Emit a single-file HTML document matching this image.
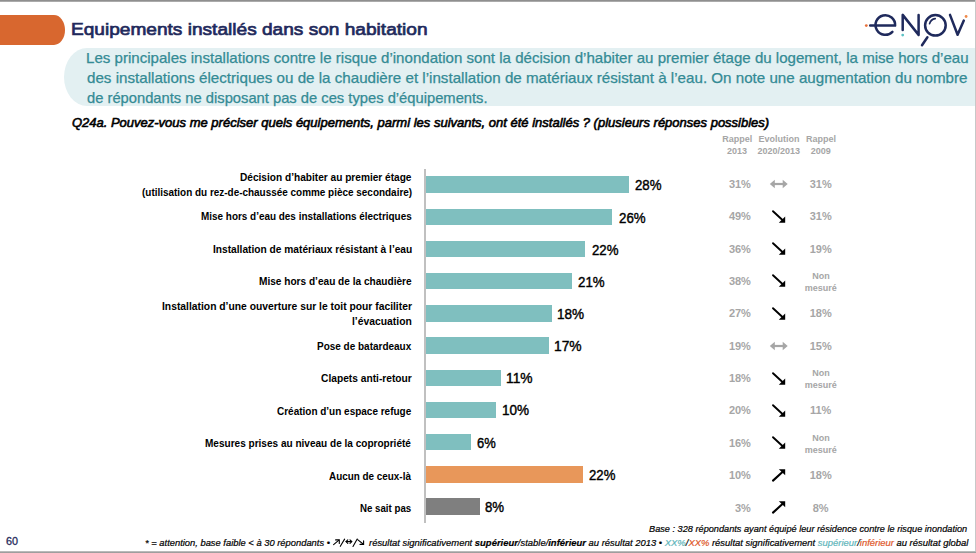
<!DOCTYPE html>
<html><head><meta charset="utf-8"><style>
html,body{margin:0;padding:0;}
body{width:976px;height:553px;position:relative;overflow:hidden;background:#fff;font-family:"Liberation Sans",sans-serif;}
.t{position:absolute;white-space:nowrap;line-height:normal;transform-origin:0 0;display:inline-block;}
.topb{position:absolute;left:0;top:0;width:976px;height:2px;background:linear-gradient(#8f8f8f 60%,#d8d8d8);}
.botb{position:absolute;left:0;top:551px;width:976px;height:2px;background:linear-gradient(#c8c8c8,#8f8f8f);}
.rb{position:absolute;left:975px;top:0;width:1px;height:553px;background:#c8c8c8;}
.tab{position:absolute;left:0;top:15px;width:65px;height:30px;background:#d8672f;border-radius:0 11px 11px 0 / 0 15px 15px 0;}
.box{position:absolute;left:64px;top:47.5px;width:911px;height:58px;background:#e3f0f2;border-radius:23px 0 0 23px / 29px 0 0 29px;}
.axis{position:absolute;left:424px;top:169px;width:2px;height:354px;background:#c0c0c0;}
.bar{position:absolute;left:426px;height:16.6px;}
.arr,.logo{position:absolute;}
</style></head><body>
<div class="topb"></div>
<div class="rb"></div>
<div class="botb"></div>
<div class="tab"></div>
<div class="box"></div>
<svg class="logo" style="left:860px;top:8px" width="112" height="42" viewBox="860 8 112 42">
<g fill="none" stroke="#1f2a5c" stroke-width="2.5" stroke-linecap="round" stroke-linejoin="round">
<path d="M870.2 25.6H895.1A9.8 9.8 0 1 0 892.4 31.8"/>
<path d="M902.7 14.9V30.1M902.7 14.9L918.6 34.9V14.9"/>
<circle cx="935.4" cy="25.3" r="10.3"/>
<path d="M927.4 37.2L922.0 45.2"/>
<path d="M929.6 23.6A6.8 6.8 0 0 1 935.2 18.6" stroke-width="1.7"/>
<path d="M950.0 14.9L957.6 34.8L963.8 20.6"/>
</g>
<circle cx="866.3" cy="25.6" r="1.4" fill="#e8703a"/>
<circle cx="902.7" cy="35.1" r="1.4" fill="#5cc2c4"/>
<circle cx="966.1" cy="16.5" r="1.4" fill="#f08a4a"/>
</svg>
<div class="axis"></div>
<div class="bar" style="top:176.30px;width:202.50px;background:#7fbfbf"></div>
<div class="bar" style="top:208.50px;width:186.10px;background:#7fbfbf"></div>
<div class="bar" style="top:240.70px;width:159.30px;background:#7fbfbf"></div>
<div class="bar" style="top:272.90px;width:145.80px;background:#7fbfbf"></div>
<div class="bar" style="top:305.10px;width:126.10px;background:#7fbfbf"></div>
<div class="bar" style="top:337.30px;width:122.90px;background:#7fbfbf"></div>
<div class="bar" style="top:369.50px;width:75.00px;background:#7fbfbf"></div>
<div class="bar" style="top:401.70px;width:70.10px;background:#7fbfbf"></div>
<div class="bar" style="top:433.90px;width:44.90px;background:#7fbfbf"></div>
<div class="bar" style="top:466.10px;width:156.80px;background:#e8975a"></div>
<div class="bar" style="top:498.30px;width:54.00px;background:#7f7f7f"></div>
<svg class="arr" style="left:768px;top:178.10px" width="22" height="12" viewBox="0 0 22 12"><path d="M5 6H16" stroke="#a6a6a6" stroke-width="2.2"/><path d="M1.8 6L6.8 1.7V10.3Z M19.7 6L14.7 1.7V10.3Z" fill="#a6a6a6"/></svg>
<svg class="arr" style="left:770px;top:207.68px" width="18" height="16" viewBox="0 0 18 16"><path d="M3 3.2L13 12.5" stroke="#000" stroke-width="1.9" stroke-linecap="round"/><path d="M15.2 14.8L15.2 8.6L8.8 14.8Z" fill="#000"/></svg>
<svg class="arr" style="left:770px;top:240.06px" width="18" height="16" viewBox="0 0 18 16"><path d="M3 3.2L13 12.5" stroke="#000" stroke-width="1.9" stroke-linecap="round"/><path d="M15.2 14.8L15.2 8.6L8.8 14.8Z" fill="#000"/></svg>
<svg class="arr" style="left:770px;top:272.44px" width="18" height="16" viewBox="0 0 18 16"><path d="M3 3.2L13 12.5" stroke="#000" stroke-width="1.9" stroke-linecap="round"/><path d="M15.2 14.8L15.2 8.6L8.8 14.8Z" fill="#000"/></svg>
<svg class="arr" style="left:770px;top:304.82px" width="18" height="16" viewBox="0 0 18 16"><path d="M3 3.2L13 12.5" stroke="#000" stroke-width="1.9" stroke-linecap="round"/><path d="M15.2 14.8L15.2 8.6L8.8 14.8Z" fill="#000"/></svg>
<svg class="arr" style="left:768px;top:340.00px" width="22" height="12" viewBox="0 0 22 12"><path d="M5 6H16" stroke="#a6a6a6" stroke-width="2.2"/><path d="M1.8 6L6.8 1.7V10.3Z M19.7 6L14.7 1.7V10.3Z" fill="#a6a6a6"/></svg>
<svg class="arr" style="left:770px;top:369.58px" width="18" height="16" viewBox="0 0 18 16"><path d="M3 3.2L13 12.5" stroke="#000" stroke-width="1.9" stroke-linecap="round"/><path d="M15.2 14.8L15.2 8.6L8.8 14.8Z" fill="#000"/></svg>
<svg class="arr" style="left:770px;top:401.96px" width="18" height="16" viewBox="0 0 18 16"><path d="M3 3.2L13 12.5" stroke="#000" stroke-width="1.9" stroke-linecap="round"/><path d="M15.2 14.8L15.2 8.6L8.8 14.8Z" fill="#000"/></svg>
<svg class="arr" style="left:770px;top:434.34px" width="18" height="16" viewBox="0 0 18 16"><path d="M3 3.2L13 12.5" stroke="#000" stroke-width="1.9" stroke-linecap="round"/><path d="M15.2 14.8L15.2 8.6L8.8 14.8Z" fill="#000"/></svg>
<svg class="arr" style="left:770px;top:467.52px" width="18" height="16" viewBox="0 0 18 16"><path d="M3 12.6L13 3.5" stroke="#000" stroke-width="2.1" stroke-linecap="round"/><path d="M15.2 1.2L15.2 7.2L8.8 1.2Z" fill="#000"/></svg>
<svg class="arr" style="left:770px;top:499.90px" width="18" height="16" viewBox="0 0 18 16"><path d="M3 12.6L13 3.5" stroke="#000" stroke-width="2.1" stroke-linecap="round"/><path d="M15.2 1.2L15.2 7.2L8.8 1.2Z" fill="#000"/></svg>
<svg class="arr" style="left:330px;top:536px" width="40" height="13" viewBox="330 536 40 13">
<g stroke="#000" stroke-width="1.1" fill="none" stroke-linecap="round">
<path d="M333.6 544.6L338.6 540.4"/><path d="M335.6 539.9H339.3V543.4"/>
<path d="M340.3 546.3L344.6 539.1"/>
<path d="M346.2 541.6H351.6"/><path d="M347.8 539.9L346 541.6L347.8 543.4M350 539.9L351.8 541.6L350 543.4"/>
<path d="M353 546.4L357.2 539.1"/>
<path d="M357.6 539.6L362.8 543.8"/><path d="M363.6 540.8V544.4H360"/>
</g></svg>
<span class="t" style="left:71.10px;top:19.25px;font-size:17.4px;color:#1f2a5c;transform:scaleX(1.0976);-webkit-text-stroke-width:0.7px;">Equipements installés dans son habitation</span>
<span class="t" style="left:85.94px;top:49.85px;font-size:14.2px;color:#348b95;transform:scaleX(1.0628);-webkit-text-stroke-width:0.25px;">Les principales installations contre le risque d’inondation sont la décision d’habiter au premier étage du logement, la mise hors d’eau</span>
<span class="t" style="left:87.00px;top:69.85px;font-size:14.2px;color:#348b95;transform:scaleX(1.0683);-webkit-text-stroke-width:0.25px;">des installations électriques ou de la chaudière et l’installation de matériaux résistant à l’eau. On note une augmentation du nombre</span>
<span class="t" style="left:87.00px;top:89.65px;font-size:14.2px;color:#348b95;transform:scaleX(1.0386);-webkit-text-stroke-width:0.25px;">de répondants ne disposant pas de ces types d’équipements.</span>
<span class="t" style="left:71.90px;top:114.64px;font-size:13.0px;font-style:italic;color:#000;-webkit-text-stroke-width:0.6px;">Q24a. Pouvez-vous me préciser quels équipements, parmi les suivants, ont été installés ? (plusieurs réponses possibles)</span>
<span class="t" style="left:239.70px;top:170.61px;font-size:10.6px;font-weight:bold;color:#000;transform:scaleX(0.9551);">Décision d’habiter au premier étage</span>
<span class="t" style="left:141.70px;top:185.51px;font-size:10.6px;font-weight:bold;color:#000;transform:scaleX(0.9382);">(utilisation du rez-de-chaussée comme pièce secondaire)</span>
<span class="t" style="left:200.50px;top:210.41px;font-size:10.6px;font-weight:bold;color:#000;transform:scaleX(0.9369);">Mise hors d’eau des installations électriques</span>
<span class="t" style="left:212.50px;top:242.81px;font-size:10.6px;font-weight:bold;color:#000;transform:scaleX(0.9615);">Installation de matériaux résistant à l’eau</span>
<span class="t" style="left:258.60px;top:275.21px;font-size:10.6px;font-weight:bold;color:#000;transform:scaleX(0.9529);">Mise hors d’eau de la chaudière</span>
<span class="t" style="left:161.50px;top:300.21px;font-size:10.6px;font-weight:bold;color:#000;transform:scaleX(0.9738);">Installation d’une ouverture sur le toit pour faciliter</span>
<span class="t" style="left:352.00px;top:315.11px;font-size:10.6px;font-weight:bold;color:#000;transform:scaleX(0.9760);">l’évacuation</span>
<span class="t" style="left:317.00px;top:340.01px;font-size:10.6px;font-weight:bold;color:#000;transform:scaleX(0.9411);">Pose de batardeaux</span>
<span class="t" style="left:320.60px;top:372.41px;font-size:10.6px;font-weight:bold;color:#000;transform:scaleX(0.9643);">Clapets anti-retour</span>
<span class="t" style="left:277.00px;top:404.81px;font-size:10.6px;font-weight:bold;color:#000;transform:scaleX(0.9420);">Création d’un espace refuge</span>
<span class="t" style="left:205.30px;top:437.21px;font-size:10.6px;font-weight:bold;color:#000;transform:scaleX(0.9477);">Mesures prises au niveau de la copropriété</span>
<span class="t" style="left:329.30px;top:469.61px;font-size:10.6px;font-weight:bold;color:#000;transform:scaleX(0.9337);">Aucun de ceux-là</span>
<span class="t" style="left:360.00px;top:502.01px;font-size:10.6px;font-weight:bold;color:#000;transform:scaleX(0.9153);">Ne sait pas</span>
<span class="t" style="left:634.60px;top:177.43px;font-size:14.0px;color:#000;transform:scaleX(0.9466);-webkit-text-stroke-width:0.4px;">28%</span>
<span class="t" style="left:618.70px;top:209.58px;font-size:14.0px;color:#000;transform:scaleX(0.9502);-webkit-text-stroke-width:0.4px;">26%</span>
<span class="t" style="left:591.90px;top:241.73px;font-size:14.0px;color:#000;transform:scaleX(0.9466);-webkit-text-stroke-width:0.4px;">22%</span>
<span class="t" style="left:577.90px;top:273.88px;font-size:14.0px;color:#000;transform:scaleX(0.9502);-webkit-text-stroke-width:0.4px;">21%</span>
<span class="t" style="left:557.43px;top:306.03px;font-size:14.0px;color:#000;transform:scaleX(0.9672);-webkit-text-stroke-width:0.4px;">18%</span>
<span class="t" style="left:554.21px;top:338.18px;font-size:14.0px;color:#000;transform:scaleX(0.9860);-webkit-text-stroke-width:0.4px;">17%</span>
<span class="t" style="left:505.92px;top:370.33px;font-size:14.0px;color:#000;transform:scaleX(0.9830);-webkit-text-stroke-width:0.4px;">11%</span>
<span class="t" style="left:501.73px;top:402.48px;font-size:14.0px;color:#000;transform:scaleX(0.9672);-webkit-text-stroke-width:0.4px;">10%</span>
<span class="t" style="left:476.80px;top:434.63px;font-size:14.0px;color:#000;transform:scaleX(0.9249);-webkit-text-stroke-width:0.4px;">6%</span>
<span class="t" style="left:589.10px;top:466.78px;font-size:14.0px;color:#000;transform:scaleX(0.9393);-webkit-text-stroke-width:0.4px;">22%</span>
<span class="t" style="left:485.40px;top:498.93px;font-size:14.0px;color:#000;transform:scaleX(0.9451);-webkit-text-stroke-width:0.4px;">8%</span>
<span class="t" style="left:722.25px;top:134.25px;font-size:9.0px;font-weight:bold;color:#a6a6a6;">Rappel</span>
<span class="t" style="left:726.99px;top:146.16px;font-size:9.0px;font-weight:bold;color:#a6a6a6;">2013</span>
<span class="t" style="left:758.55px;top:134.25px;font-size:9.0px;font-weight:bold;color:#a6a6a6;">Evolution</span>
<span class="t" style="left:757.53px;top:146.16px;font-size:9.0px;font-weight:bold;color:#a6a6a6;">2020/2013</span>
<span class="t" style="left:806.05px;top:134.25px;font-size:9.0px;font-weight:bold;color:#a6a6a6;">Rappel</span>
<span class="t" style="left:810.79px;top:146.16px;font-size:9.0px;font-weight:bold;color:#a6a6a6;">2009</span>
<span class="t" style="left:728.88px;top:177.74px;font-size:11.0px;font-weight:bold;color:#a6a6a6;">31%</span>
<span class="t" style="left:809.68px;top:177.74px;font-size:11.0px;font-weight:bold;color:#a6a6a6;">31%</span>
<span class="t" style="left:728.88px;top:210.12px;font-size:11.0px;font-weight:bold;color:#a6a6a6;">49%</span>
<span class="t" style="left:809.68px;top:210.12px;font-size:11.0px;font-weight:bold;color:#a6a6a6;">31%</span>
<span class="t" style="left:728.88px;top:242.50px;font-size:11.0px;font-weight:bold;color:#a6a6a6;">36%</span>
<span class="t" style="left:809.68px;top:242.50px;font-size:11.0px;font-weight:bold;color:#a6a6a6;">19%</span>
<span class="t" style="left:728.88px;top:274.89px;font-size:11.0px;font-weight:bold;color:#a6a6a6;">38%</span>
<span class="t" style="left:812.30px;top:270.90px;font-size:9.0px;font-weight:bold;color:#a6a6a6;">Non</span>
<span class="t" style="left:804.79px;top:282.90px;font-size:9.0px;font-weight:bold;color:#a6a6a6;">mesuré</span>
<span class="t" style="left:728.88px;top:307.27px;font-size:11.0px;font-weight:bold;color:#a6a6a6;">27%</span>
<span class="t" style="left:809.68px;top:307.27px;font-size:11.0px;font-weight:bold;color:#a6a6a6;">18%</span>
<span class="t" style="left:728.88px;top:339.65px;font-size:11.0px;font-weight:bold;color:#a6a6a6;">19%</span>
<span class="t" style="left:809.68px;top:339.65px;font-size:11.0px;font-weight:bold;color:#a6a6a6;">15%</span>
<span class="t" style="left:728.88px;top:372.03px;font-size:11.0px;font-weight:bold;color:#a6a6a6;">18%</span>
<span class="t" style="left:812.30px;top:368.04px;font-size:9.0px;font-weight:bold;color:#a6a6a6;">Non</span>
<span class="t" style="left:804.79px;top:380.04px;font-size:9.0px;font-weight:bold;color:#a6a6a6;">mesuré</span>
<span class="t" style="left:728.88px;top:404.41px;font-size:11.0px;font-weight:bold;color:#a6a6a6;">20%</span>
<span class="t" style="left:809.99px;top:404.41px;font-size:11.0px;font-weight:bold;color:#a6a6a6;">11%</span>
<span class="t" style="left:728.88px;top:436.79px;font-size:11.0px;font-weight:bold;color:#a6a6a6;">16%</span>
<span class="t" style="left:812.30px;top:432.80px;font-size:9.0px;font-weight:bold;color:#a6a6a6;">Non</span>
<span class="t" style="left:804.79px;top:444.80px;font-size:9.0px;font-weight:bold;color:#a6a6a6;">mesuré</span>
<span class="t" style="left:728.88px;top:469.17px;font-size:11.0px;font-weight:bold;color:#a6a6a6;">10%</span>
<span class="t" style="left:809.68px;top:469.17px;font-size:11.0px;font-weight:bold;color:#a6a6a6;">18%</span>
<span class="t" style="left:734.94px;top:501.55px;font-size:11.0px;font-weight:bold;color:#a6a6a6;">3%</span>
<span class="t" style="left:812.74px;top:501.55px;font-size:11.0px;font-weight:bold;color:#a6a6a6;">8%</span>
<span class="t" style="left:5.60px;top:535.06px;font-size:11.2px;color:#1f2a5c;transform:scaleX(0.9655);-webkit-text-stroke-width:0.3px;">60</span>
<span class="t" style="left:649.00px;top:523.67px;font-size:9.2px;font-style:italic;color:#000;-webkit-text-stroke-width:0.2px;">Base : 328 répondants ayant équipé leur résidence contre le risque inondation</span>
<span class="t" style="left:144.80px;top:537.67px;font-size:9.2px;font-style:italic;color:#000;transform:scaleX(1.0193);-webkit-text-stroke-width:0.2px;">* = attention, base faible &lt; à 30 répondants •</span>
<span class="t" style="left:368.70px;top:537.67px;font-size:9.2px;font-style:italic;color:#000;transform:scaleX(1.0263);-webkit-text-stroke-width:0.2px;">résultat significativement <b>supérieur</b>/stable/<b>inférieur</b> au résultat 2013 • <span style="color:#5fb6bb">XX%</span>/<span style="color:#e0582a">XX%</span> résultat significativement <span style="color:#5fb6bb">supérieur</span>/<span style="color:#e0582a">inférieur</span> au résultat global</span>
</body></html>
